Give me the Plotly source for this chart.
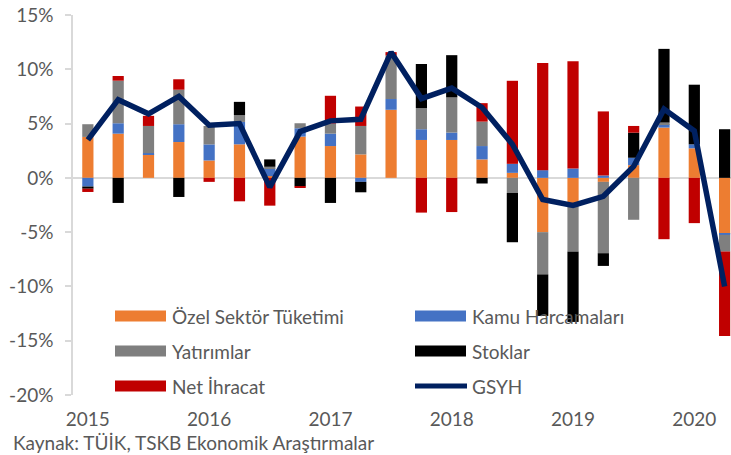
import plotly.graph_objects as go

quarters = ["2015Q1", "2015Q2", "2015Q3", "2015Q4", "2016Q1", "2016Q2", "2016Q3", "2016Q4",
            "2017Q1", "2017Q2", "2017Q3", "2017Q4", "2018Q1", "2018Q2", "2018Q3", "2018Q4",
            "2019Q1", "2019Q2", "2019Q3", "2019Q4", "2020Q1", "2020Q2"]
year_ticks = ["2015", "2016", "2017", "2018", "2019", "2020"]
y_ticks = [15, 10, 5, 0, -5, -10, -15, -20]

ozel = [3.77, 4.07, 2.16, 3.30, 1.60, 3.09, 0.16, 3.80, 2.93, 2.16, 6.27, 3.49,
        3.49, 1.70, 0.46, -5.00, -2.47, -0.37, 1.17, 4.63, 2.72, -5.15]
kamu = [-0.80, 0.96, 0.12, 1.64, 1.48, 2.06, 0.71, 0.77, 1.14, -0.37, 0.99, 0.99,
        0.68, 1.23, 0.83, 0.71, 0.86, 0.22, 0.68, 0.31, 0.37, -0.10]
yatirim = [1.17, 3.92, 2.50, 3.18, 1.70, 0.62, 0.15, 0.46, 0.93, 2.62, 4.01, 1.94,
           3.24, 2.25, -1.39, -3.89, -4.32, -6.57, -3.86, 0.15, 0.0, -1.54]
stok = [-0.20, -2.31, 0.0, -1.76, 0.0, 1.23, 0.68, -0.77, -2.31, -0.96, 0.0, 4.07,
        3.89, -0.52, -4.54, -3.83, -6.48, -1.17, 2.31, 6.79, 5.49, 4.48]
net = [-0.30, 0.43, 0.93, 0.96, -0.37, -2.16, -2.56, -0.15, 2.56, 1.79, 0.31, -3.20,
       -3.15, 1.70, 7.65, 9.88, 9.88, 5.90, 0.62, -5.65, -4.17, -7.78]
gsyh = [3.5, 7.2, 5.9, 7.5, 4.85, 5.0, -0.85, 4.26, 5.25, 5.4, 11.57, 7.3,
        8.27, 6.48, 3.1, -2.0, -2.53, -1.7, 1.05, 6.33, 4.32, -10.0]

names = ["Özel Sektör Tüketimi", "Kamu Harcamaları", "Yatırımlar", "Stoklar", "Net İhracat", "GSYH"]
colors = ["#ED7D31", "#4472C4", "#7F7F7F", "#000000", "#C00000", "#002060"]

x = list(range(len(quarters)))
FONT = "Lato"
FS = 19
TXT = "#595959"

fig = go.Figure()
for vals, nm, col in zip([ozel, kamu, yatirim, stok, net], names[:5], colors[:5]):
    fig.add_trace(go.Bar(x=x, y=vals, name=nm, marker=dict(color=col, line=dict(width=0)),
                         showlegend=False, hovertext=quarters))
fig.add_trace(go.Scatter(x=x, y=gsyh, name=names[5], mode="lines",
                         line=dict(color=colors[5], width=5.5), showlegend=False,
                         hovertext=quarters))

W, H = 731, 455
L, R, T, B = 73, 0, 15, 60
pw, ph = W - L - R, H - T - B


def px(xp):
    return (xp - L) / pw


def py(yp):
    return (H - B - yp) / ph


# manual legend (swatches + labels)
legend_items = [
    (0, 115, 316), (1, 415, 316),
    (2, 115, 351), (3, 415, 351),
    (4, 115, 386), (5, 415, 386),
]
shapes = []
annotations = []
for idx, sx, sy in legend_items:
    if idx < 5:
        shapes.append(dict(type="rect", xref="paper", yref="paper",
                           x0=px(sx), x1=px(sx + 51), y0=py(sy + 5.5), y1=py(sy - 5.5),
                           fillcolor=colors[idx], line=dict(width=0)))
    else:
        shapes.append(dict(type="line", xref="paper", yref="paper",
                           x0=px(sx), x1=px(sx + 52), y0=py(sy), y1=py(sy),
                           line=dict(color=colors[idx], width=5)))
    annotations.append(dict(text=names[idx], xref="paper", yref="paper",
                            x=px(sx + 55), y=py(sy), xanchor="left", yanchor="middle",
                            showarrow=False, font=dict(family=FONT, size=FS, color=TXT)))

annotations.append(dict(text="Kaynak: TÜİK, TSKB Ekonomik Araştırmalar", xref="paper", yref="paper",
                        x=px(11), y=py(442), xanchor="left", yanchor="middle", showarrow=False,
                        font=dict(family=FONT, size=FS, color=TXT)))

fig.update_layout(
    width=W, height=H,
    margin=dict(l=L, r=R, t=T, b=B, pad=0),
    barmode="relative", bargap=0.63,
    plot_bgcolor="white", paper_bgcolor="white",
    font=dict(family=FONT, size=FS, color=TXT),
    shapes=shapes, annotations=annotations,
    xaxis=dict(range=[-0.49, 21.21], tickvals=[0, 4, 8, 12, 16, 20], ticktext=year_ticks,
               showgrid=False, zeroline=False, showline=False, ticks="",
               ticklabelstandoff=11, tickfont=dict(family=FONT, size=FS, color=TXT)),
    yaxis=dict(range=[-20, 15], tickvals=y_ticks, ticktext=[f"{v}%" for v in y_ticks],
               showgrid=False, zeroline=True, zerolinecolor="#D9D9D9", zerolinewidth=2,
               showline=True, linecolor="#D9D9D9", linewidth=1.5,
               ticks="outside", ticklen=6, tickcolor="#D9D9D9", tickwidth=1.5,
               ticklabelstandoff=8, tickfont=dict(family=FONT, size=FS, color=TXT)),
)

fig.write_html("out.html")
